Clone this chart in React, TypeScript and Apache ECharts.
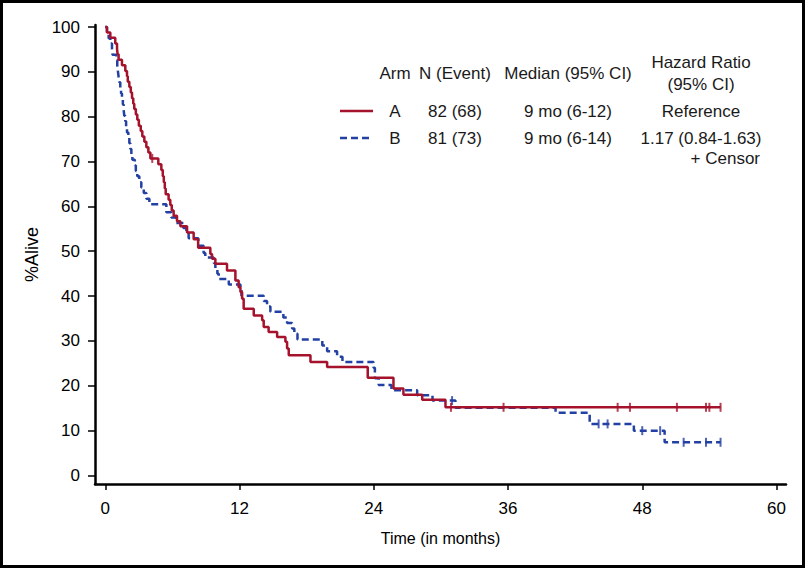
import React, { useEffect, useRef } from "react";
import * as echarts from "echarts";

// ---- Data ----
const armATimes = [0, 0.15, 0.45, 0.89, 1.05, 1.1, 1.19, 1.49, 1.79, 1.94, 2.01, 2.15, 2.28, 2.39, 2.5, 2.59, 2.73, 2.86, 3.0, 3.17, 3.31, 3.49, 3.67, 3.85, 4.03, 4.74, 5.01, 5.14, 5.23, 5.32, 5.4, 5.66, 5.81, 5.94, 6.11, 6.41, 6.71, 7.31, 7.9, 8.3, 9.39, 9.54, 9.84, 10.88, 11.63, 11.92, 12.08, 12.23, 12.37, 13.27, 14.02, 14.16, 14.6, 15.36, 16.1, 16.25, 16.4, 18.34, 19.83, 23.46, 25.76, 26.65, 28.33, 30.41, 55.0];
const armASurv = [100, 98.8, 97.6, 96.3, 95.1, 93.9, 92.7, 91.5, 90.2, 89.0, 87.8, 86.6, 85.4, 84.1, 82.9, 81.7, 80.5, 79.3, 78.0, 76.8, 75.6, 74.4, 73.2, 72.0, 70.7, 69.4, 68.1, 66.7, 65.4, 64.0, 62.7, 61.5, 60.3, 59.1, 57.9, 56.7, 55.6, 54.2, 52.7, 50.8, 49.4, 48.3, 47.2, 45.7, 43.5, 42.0, 40.9, 39.4, 37.2, 35.7, 34.6, 33.1, 32.0, 30.9, 29.8, 28.3, 26.8, 25.3, 24.2, 21.8, 19.4, 18.0, 16.9, 15.2, 15.2];
const armACensorTimes = [4.2, 30.9, 35.6, 45.8, 46.9, 51.1, 53.7, 54.0, 55.0];
const armACensorSurv = [70.7, 15.2, 15.2, 15.2, 15.2, 15.2, 15.2, 15.2, 15.2];

const armBTimes = [0, 0.15, 0.3, 0.45, 0.6, 0.65, 0.98, 1.07, 1.13, 1.19, 1.25, 1.34, 1.41, 1.49, 1.57, 1.64, 1.7, 1.79, 1.86, 1.94, 2.06, 2.15, 2.24, 2.33, 2.42, 2.64, 2.73, 2.86, 3.04, 3.22, 3.44, 3.67, 3.94, 5.46, 5.9, 6.35, 6.98, 7.25, 7.45, 8.32, 8.79, 8.94, 9.69, 9.84, 10.02, 10.14, 11.04, 12.08, 12.17, 14.16, 14.46, 14.76, 15.92, 16.25, 16.7, 16.9, 17.18, 19.4, 19.83, 20.72, 21.2, 23.98, 24.1, 24.44, 25.58, 27.88, 29.25, 31.3, 40.25, 43.3, 47.25, 50.0, 55.0];
const armBSurv = [100, 98.8, 97.5, 96.3, 95.1, 93.8, 92.6, 91.4, 90.1, 88.9, 87.7, 86.4, 85.2, 84.0, 82.7, 81.5, 80.2, 79.0, 77.8, 76.5, 75.3, 74.1, 72.8, 71.6, 70.4, 69.1, 67.9, 66.7, 65.4, 64.2, 63.0, 61.7, 60.5, 58.7, 57.5, 56.3, 55.2, 54.1, 52.9, 51.2, 49.6, 48.6, 47.4, 46.2, 45.0, 43.8, 42.6, 41.4, 40.1, 38.9, 37.7, 36.5, 35.2, 34.0, 32.8, 31.6, 30.3, 29.0, 27.7, 26.5, 25.3, 24.0, 21.7, 20.2, 19.0, 17.9, 16.7, 15.1, 14.0, 11.5, 10.0, 7.4, 7.4];
const armBCensorTimes = [31.0, 44.1, 44.9, 48.0, 49.6, 51.7, 53.7, 55.0];
const armBCensorSurv = [16.7, 11.5, 11.5, 10.0, 10.0, 7.4, 7.4, 7.4];

const xTicks = [0, 12, 24, 36, 48, 60];
const yTicks = [0, 10, 20, 30, 40, 50, 60, 70, 80, 90, 100];

const tableHeader = ["Arm", "N (Event)", "Median (95% CI)"];
const hazardHeader = ["Hazard Ratio", "(95% CI)"];
const armNames = ["A", "B"];
const armN = ["82 (68)", "81 (73)"];
const armMedian = ["9 mo (6-12)", "9 mo (6-14)"];
const armHR = ["Reference", "1.17 (0.84-1.63)"];
const censorLabel = "+ Censor";

const RED = "#a5122c";
const BLUE = "#2340a3";
const FONT = "'Liberation Sans', Arial, Helvetica, sans-serif";

const zip = (a: number[], b: number[]) => a.map((v, i) => [v, b[i]]);

export default function App() {
  const ref = useRef<HTMLDivElement>(null);
  useEffect(() => {
    if (!ref.current) return;
    const chart = echarts.init(ref.current, undefined, { renderer: "svg" });
    const txt = (text: string, x: number, y: number, align = "center") => ({
      type: "text",
      x,
      y,
      style: { text, fill: "#1a1a1a", font: `17px ${FONT}`, textAlign: align, textVerticalAlign: "middle" },
    });
    const colX = [395, 455, 568];
    const rowY = [111, 138];
    const graphics: any[] = [
      { type: "rect", shape: { x: 1.5, y: 1.5, width: 802, height: 565 }, style: { fill: "none", stroke: "#000", lineWidth: 3 } },
      txt(tableHeader[0], colX[0], 73),
      txt(tableHeader[1], colX[1], 73),
      txt(tableHeader[2], colX[2], 73),
      txt(hazardHeader[0], 701, 62),
      txt(hazardHeader[1], 701, 84),
      { type: "line", shape: { x1: 340, y1: rowY[0], x2: 373, y2: rowY[0] }, style: { stroke: RED, lineWidth: 2.5 } },
      { type: "line", shape: { x1: 340, y1: rowY[1], x2: 373, y2: rowY[1] }, style: { stroke: BLUE, lineWidth: 2.5, lineDash: [7, 4] } },
      txt(censorLabel, 760, 158, "right"),
    ];
    armNames.forEach((n, i) => {
      graphics.push(txt(n, colX[0], rowY[i]));
      graphics.push(txt(armN[i], colX[1], rowY[i]));
      graphics.push(txt(armMedian[i], colX[2], rowY[i]));
      graphics.push(txt(armHR[i], 701, rowY[i]));
    });

    chart.setOption({
      animation: false,
      textStyle: { fontFamily: FONT },
      grid: { left: 95, right: 19, top: 25, bottom: 84, containLabel: false },
      xAxis: {
        type: "value",
        min: -0.92,
        max: 60.85,
        name: "Time (in months)",
        nameLocation: "middle",
        nameGap: 46,
        nameTextStyle: { fontSize: 16, color: "#000", fontFamily: FONT },
        axisLine: { show: true, onZero: false, lineStyle: { color: "#000", width: 2.5 } },
        axisTick: { show: true, length: 6, customValues: xTicks, lineStyle: { color: "#000", width: 1.5 } },
        axisLabel: { customValues: xTicks, fontSize: 17, color: "#000", margin: 16, fontFamily: FONT },
        splitLine: { show: false },
      },
      yAxis: {
        type: "value",
        min: -1.9,
        max: 100.45,
        name: "%Alive",
        nameLocation: "middle",
        nameGap: 51,
        nameRotate: 90,
        nameTextStyle: { fontSize: 18, color: "#000", fontFamily: FONT },
        axisLine: { show: true, onZero: false, lineStyle: { color: "#000", width: 2.5 } },
        axisTick: { show: true, length: 7, customValues: yTicks, lineStyle: { color: "#000", width: 1.5 } },
        axisLabel: { customValues: yTicks, fontSize: 17, color: "#000", margin: 15, fontFamily: FONT },
        splitLine: { show: false },
      },
      series: [
        {
          name: "B",
          type: "line",
          step: "end",
          symbol: "none",
          data: zip(armBTimes, armBSurv),
          lineStyle: { color: BLUE, width: 2.5, type: [7, 4] },
          z: 2,
        },
        {
          name: "B censor",
          type: "scatter",
          symbol: "rect",
          symbolSize: [2, 9],
          data: zip(armBCensorTimes, armBCensorSurv),
          itemStyle: { color: BLUE },
          z: 2,
        },
        {
          name: "A",
          type: "line",
          step: "end",
          symbol: "none",
          data: zip(armATimes, armASurv),
          lineStyle: { color: RED, width: 2.5 },
          z: 3,
        },
        {
          name: "A censor",
          type: "scatter",
          symbol: "rect",
          symbolSize: [2, 9],
          data: zip(armACensorTimes, armACensorSurv),
          itemStyle: { color: RED },
          z: 3,
        },
      ],
      graphic: graphics,
    });
    return () => chart.dispose();
  }, []);
  return (
    <div
      ref={ref}
      style={{ position: "absolute", left: 0, top: 0, width: 805, height: 568, background: "#fff" }}
    />
  );
}
